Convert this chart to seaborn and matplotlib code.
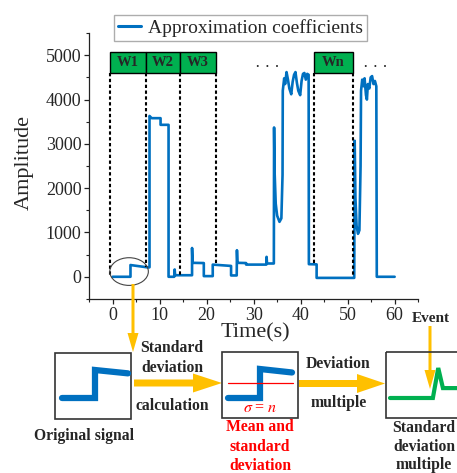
import numpy as np
import pandas as pd
import matplotlib
matplotlib.use("Agg")
import matplotlib.pyplot as plt
from matplotlib.patches import Rectangle, Ellipse, FancyArrow
from matplotlib.ticker import MultipleLocator
import seaborn as sns

# ---- approximation-coefficient trace (time in s, amplitude) ----
time_s = [0, 3.8, 3.8, 7.6, 7.85, 7.85, 8.3, 10.2, 10.2, 11.9, 11.9,
          13.1, 13.2, 13.3, 16.9, 16.9, 17.0, 19.4, 19.4, 21.3, 21.3,
          25.2, 25.2, 26.4, 26.45, 26.55, 28.4, 28.4, 32.7, 32.75, 32.85,
          34.3, 34.35, 34.45, 34.7, 35.0, 35.5, 35.9, 36.15, 36.2,
          36.5, 36.7, 37.0, 37.3, 37.6, 38.0, 38.3, 38.6, 38.9, 39.2,
          39.5, 39.9, 40.2, 40.5, 40.8, 41.1, 41.4, 41.7, 41.75,
          43.4, 43.4, 51.4, 51.5, 51.65, 51.9, 52.2, 52.5, 52.75, 52.85,
          53.1, 53.4, 53.6, 53.9, 54.1, 54.3, 54.6, 54.9, 55.2, 55.5,
          55.8, 56.1, 56.2, 60]
amplitude = [0, 0, 265, 210, 215, 3630, 3580, 3580, 3430, 3430, 0,
             0, 165, 35, 35, 650, 315, 310, 15, 15, 275,
             245, 30, 30, 600, 315, 310, 275, 275, 450, 300,
             300, 3370, 2400, 1650, 1380, 1240, 1320, 2300, 4200,
             4480, 4350, 4620, 4450, 4250, 4120, 4400, 4560, 4620, 4380,
             4200, 4100, 4420, 4580, 4600, 4450, 4580, 4560, 285,
             280, -25, -25, 3070, 1800, 1150, 970, 1050, 2500, 4200,
             4450, 4300, 4480, 4100, 4000, 4350, 4250, 4500, 4530, 4350,
             4420, 4300, 0, 0]

# ---- analysis windows ----
window_labels = ["W1", "W2", "W3", "Wn"]
window_left = [-0.6, 7.2, 14.3, 42.8]
window_right = [7.2, 14.3, 22.0, 51.2]
window_bottom = 4590
window_top = 5080
boundary_x = [-0.6, 7.2, 14.3, 22.0, 42.8, 51.2]
boundary_end = [0, 215, 0, 255, 285, 0]

# ---- schematic icons (unit shapes) ----
step_icon_x = [0.0, 0.5, 0.5, 1.0]
step_icon_y = [0.0, 0.0, 1.0, 0.88]
event_icon_x = [0.0, 0.64, 0.72, 0.79, 1.0]
event_icon_y = [0.0, 0.0, 1.0, 0.33, 0.33]

blue = "#0070C0"
orange = "#FFC000"
green = "#00B050"

sns.set_style("ticks")
plt.rcParams["font.family"] = ["Liberation Serif", "DejaVu Serif"]
plt.rcParams["mathtext.fontset"] = "stix"

fig = plt.figure(figsize=(4.57, 4.73), dpi=100)
ax = fig.add_axes([0.195, 0.368, 0.72, 0.562])

df = pd.DataFrame({"Time(s)": time_s, "Amplitude": amplitude})
sns.lineplot(data=df, x="Time(s)", y="Amplitude", ax=ax, estimator=None,
             sort=False, color=blue, linewidth=1.9,
             label="Approximation coefficients")

ax.set_xlim(-5, 65)
ax.set_ylim(-500, 5500)
ax.xaxis.set_major_locator(MultipleLocator(10))
ax.xaxis.set_minor_locator(MultipleLocator(5))
ax.yaxis.set_major_locator(MultipleLocator(1000))
ax.yaxis.set_minor_locator(MultipleLocator(500))
ax.set_yticks([0, 1000, 2000, 3000, 4000, 5000])
ax.set_xticks([0, 10, 20, 30, 40, 50, 60])
ax.tick_params(which="major", direction="out", length=3.5, width=0.9,
               labelsize=13, pad=2, color="#222222")
ax.tick_params(which="minor", direction="out", length=2.2, width=0.8,
               color="#222222")
for s in ("top", "right"):
    ax.spines[s].set_visible(False)
for s in ("left", "bottom"):
    ax.spines[s].set_linewidth(0.9)
    ax.spines[s].set_color("#222222")

ax.set_xlabel("Time(s)", fontsize=16)
ax.set_ylabel("Amplitude", fontsize=16)
ax.xaxis.label.set_va("center")
ax.xaxis.set_label_coords(0.505, -0.128)
ax.yaxis.label.set_va("center")
ax.yaxis.set_label_coords(-0.198, 0.515)

# window boxes and their dashed boundaries
for lab, x0, x1 in zip(window_labels, window_left, window_right):
    ax.add_patch(Rectangle((x0, window_bottom), x1 - x0, window_top - window_bottom,
                           facecolor=green, edgecolor="black", lw=1.0,
                           zorder=4, clip_on=False))
    ax.text((x0 + x1) / 2, (window_bottom + window_top) / 2, lab,
            ha="center", va="center", fontsize=10.5, fontweight="bold",
            zorder=5)
for bx, be in zip(boundary_x, boundary_end):
    ax.plot([bx, bx], [window_bottom, be], color="black", lw=1.5,
            linestyle=(0, (1.6, 1.2)), zorder=3)

ax.text(32.9, 4715, "· · ·", ha="center", va="center", fontsize=12)
ax.text(56.0, 4715, "· · ·", ha="center", va="center", fontsize=12)

ax.add_patch(Ellipse((3.5, 118), 8.2, 625, fill=False, edgecolor="#444444",
                     lw=0.8, zorder=4))

leg = ax.legend(loc="upper left", bbox_to_anchor=(114 / 457, 1 - 15 / 473),
                bbox_transform=fig.transFigure, borderaxespad=0,
                fontsize=14, handlelength=1.2, handletextpad=0.35,
                borderpad=0.2, fancybox=False, frameon=True)
leg.get_frame().set_edgecolor("#999999")
leg.get_frame().set_linewidth(1.0)
for h in leg.get_lines():
    h.set_linewidth(2.2)

# ---- schematic overlay in pixel coordinates ----
ov = fig.add_axes([0, 0, 1, 1], zorder=10)
ov.set_xlim(0, 457)
ov.set_ylim(473, 0)
ov.axis("off")


def arrow(x, y, dx, dy, w, hw, hl):
    ov.add_patch(FancyArrow(x, y, dx, dy, width=w, head_width=hw,
                            head_length=hl, length_includes_head=True,
                            color=orange, lw=0))


arrow(133, 284, 0, 68, 3, 11, 19)
arrow(430, 326, 0, 63, 3, 11, 19)
arrow(134, 383, 88, 0, 7, 19, 29)
arrow(299, 383.5, 86, 0, 7, 19, 28)

for (bx, by, bw, bh) in [(55, 353, 76, 66), (222, 352, 76, 66), (386, 352, 80, 66)]:
    ov.add_patch(Rectangle((bx, by), bw, bh, fill=False, edgecolor="#333333",
                           lw=1.2, clip_on=False))


def place(xs, ys, x0, x1, ybot, ytop):
    return ([x0 + v * (x1 - x0) for v in xs],
            [ybot + v * (ytop - ybot) for v in ys])


px, py = place(step_icon_x, step_icon_y, 62, 128, 398, 370)
ov.plot(px, py, color=blue, lw=4.5, solid_joinstyle="miter")
px, py = place(step_icon_x, step_icon_y, 228, 292, 398, 369)
ov.plot(px, py, color=blue, lw=4.5, solid_joinstyle="miter")
ov.plot([228, 293], [383.3, 383.3], color="red", lw=0.9)
px, py = place(event_icon_x, event_icon_y, 390, 457, 398, 368)
ov.plot(px, py, color=green, lw=3.0, solid_joinstyle="miter")

bold = dict(ha="center", va="center", fontsize=11.3, fontweight="bold")
ov.text(172, 348, "Standard", **bold)
ov.text(172, 367.5, "deviation", **bold)
ov.text(172, 406, "calculation", **bold)
ov.text(338, 364, "Deviation", **bold)
ov.text(339, 403, "multiple", **bold)
ov.text(84, 436, "Original signal", **bold)
ov.text(260, 427, "Mean and", color="red", **bold)
ov.text(260, 447, "standard", color="red", **bold)
ov.text(260, 466, "deviation", color="red", **bold)
ov.text(424, 428, "Standard", **bold)
ov.text(424, 447, "deviation", **bold)
ov.text(424, 465, "multiple", **bold)
ov.text(431, 318, "Event", ha="center", va="center", fontsize=11,
        fontweight="bold")
ov.text(260, 408, r"$\sigma$ = $n$", ha="center", va="center",
        fontsize=11.5, color="red")

fig.savefig("out.png", dpi=100)
